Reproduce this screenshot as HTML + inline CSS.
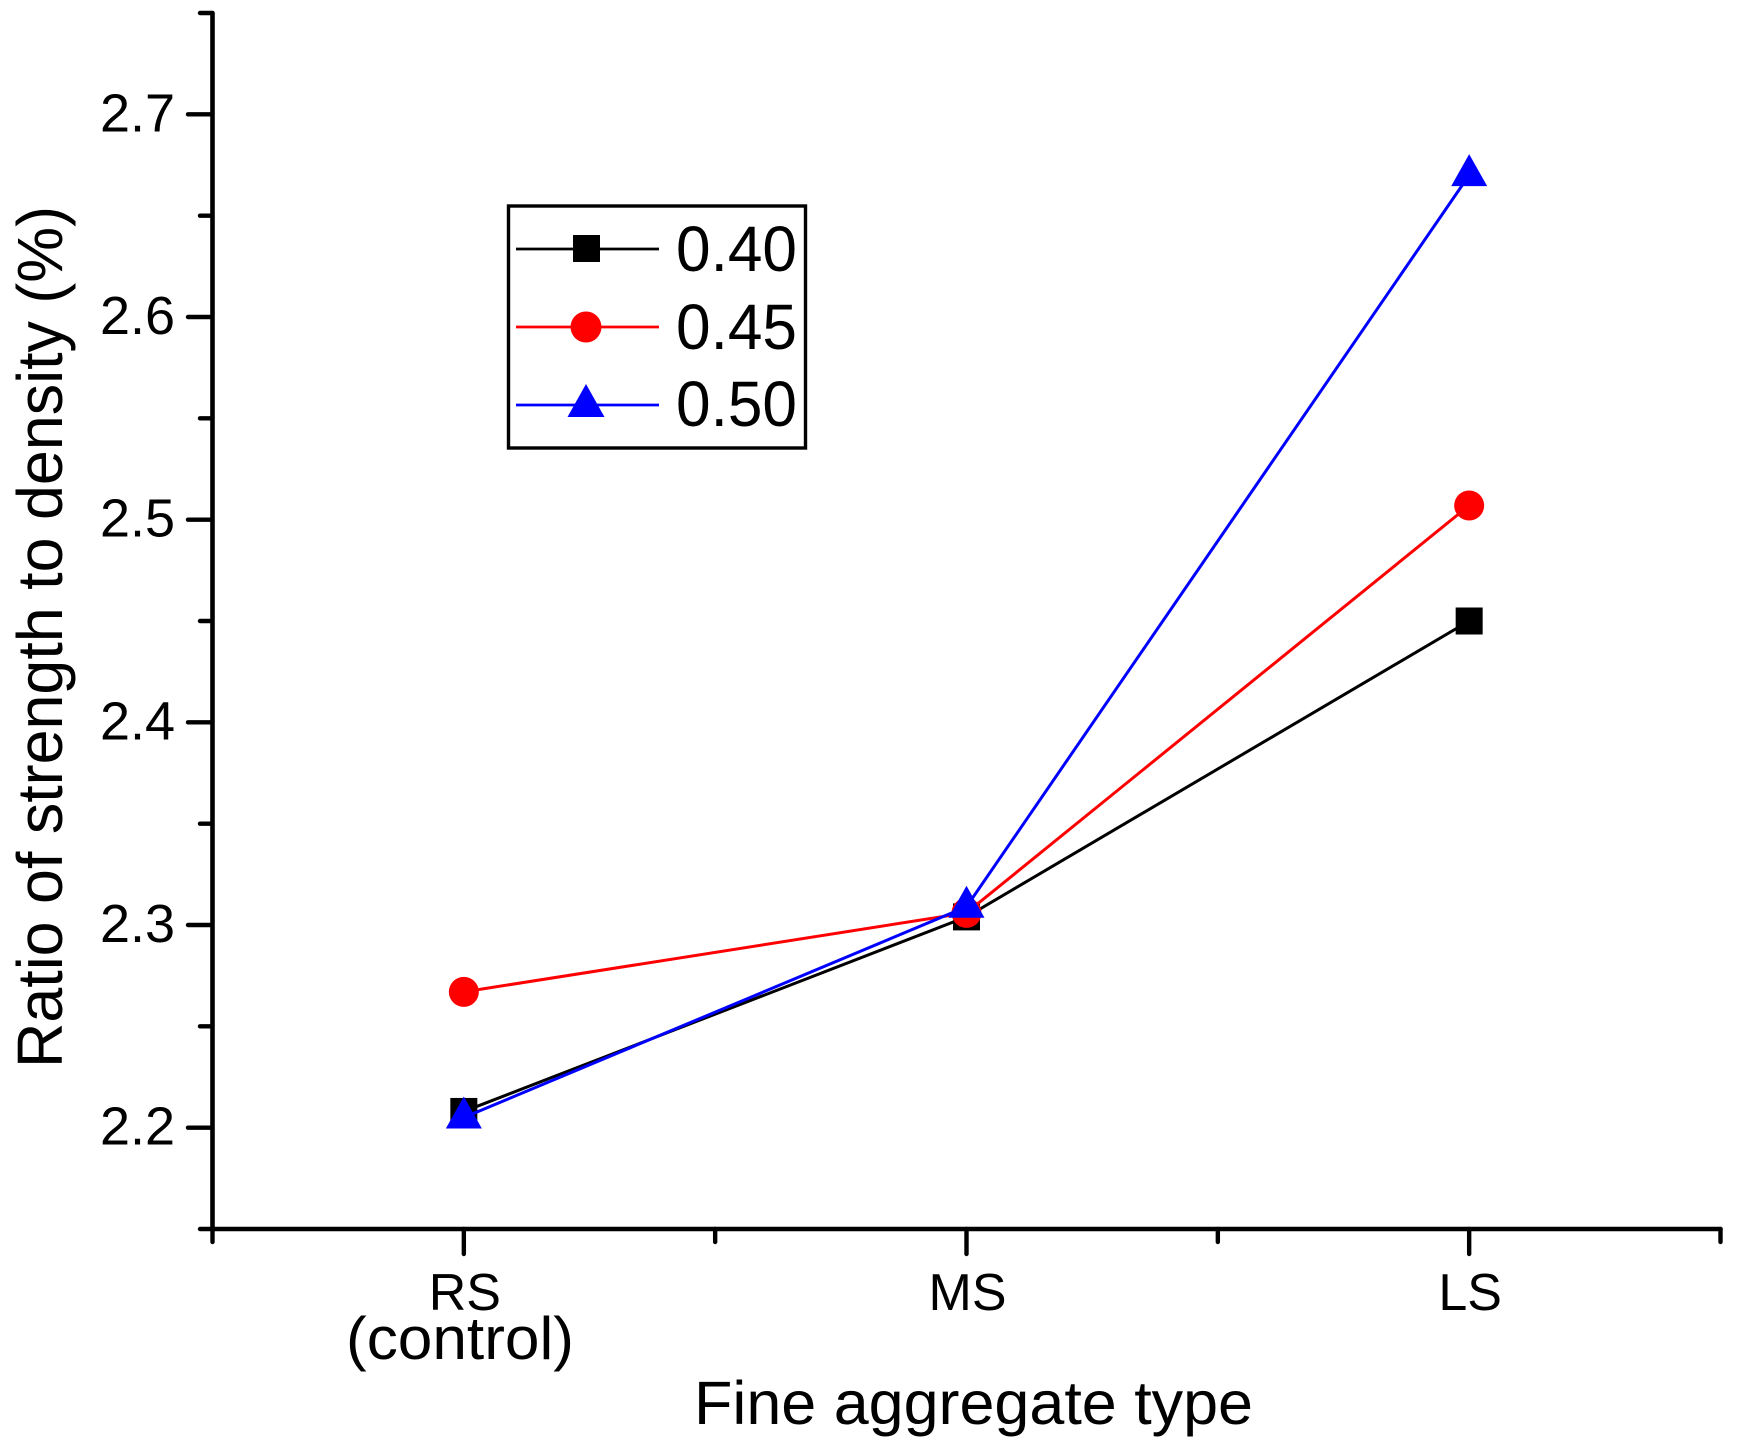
<!DOCTYPE html>
<html lang="en">
<head>
<meta charset="utf-8">
<title>Ratio of strength to density</title>
<style>
html,body{margin:0;padding:0;background:#fff;width:1738px;height:1451px;overflow:hidden}
svg{display:block}
text{font-family:"Liberation Sans",sans-serif;fill:#000}
</style>
</head>
<body>
<svg id="chart" xmlns="http://www.w3.org/2000/svg" width="1738" height="1451" viewBox="0 0 1738 1451">
<rect x="0" y="0" width="1738" height="1451" fill="#fff"/>
<g id="axes"></g>
<g id="series"></g>
<text transform="translate(62,1068) rotate(-90)" font-size="64" textLength="862" lengthAdjust="spacingAndGlyphs">Ratio of strength to density (%)</text>
<text x="694" y="1424" font-size="61" textLength="559" lengthAdjust="spacingAndGlyphs">Fine aggregate type</text>
<g id="legend">
<rect x="508.5" y="206" width="297" height="242" fill="#fff" stroke="#000" stroke-width="3.4"/>
<g>
<line x1="516" x2="659" y1="249" y2="249" stroke="#000" stroke-width="2.8"/>
<rect x="573" y="235" width="27" height="27" fill="#000"/>
<text x="676" y="271" font-size="64" textLength="121" lengthAdjust="spacingAndGlyphs">0.40</text>
</g>
<g>
<line x1="516" x2="659" y1="327" y2="327" stroke="#f00" stroke-width="2.8"/>
<circle cx="586" cy="327" r="15.5" fill="#f00"/>
<text x="676" y="349" font-size="64" textLength="121" lengthAdjust="spacingAndGlyphs">0.45</text>
</g>
<g>
<line x1="516" x2="659" y1="405" y2="405" stroke="#00f" stroke-width="2.8"/>
<polygon points="586,384 604.5,417 567.5,417" fill="#00f"/>
<text x="676" y="426" font-size="64" textLength="121" lengthAdjust="spacingAndGlyphs">0.50</text>
</g>
</g>
</svg>
<script>
var categories = ["RS", "MS", "LS"];
var yMajorTicks = ["2.2", "2.3", "2.4", "2.5", "2.6", "2.7"];
var yMinorTicks = ["2.15", "2.25", "2.35", "2.45", "2.55", "2.65", "2.75"];
var xMinorTicks = [-0.5, 0.5, 1.5, 2.5];
var values040 = [2.208, 2.304, 2.45];
var values045 = [2.267, 2.306, 2.507];
var values050 = [2.205, 2.309, 2.67];

var SVG_NS = "http://www.w3.org/2000/svg";
var axesGroup = document.getElementById("axes");
var seriesGroup = document.getElementById("series");

function xScale(i) { return 212.5 + (i + 0.5) / 3 * (1720.5 - 212.5); }
function yScale(v) { return 1229 - (v - 2.15) / (2.75 - 2.15) * (1229 - 13); }

function make(parent, tag, attrs) {
  var el = document.createElementNS(SVG_NS, tag);
  for (var k in attrs) { el.setAttribute(k, attrs[k]); }
  parent.appendChild(el);
  return el;
}

function axisLine(x1, y1, x2, y2, w) {
  return make(axesGroup, "line", { x1: x1, y1: y1, x2: x2, y2: y2, stroke: "#000", "stroke-width": w, "stroke-linecap": "round" });
}

var yAxisLine = axisLine(212.5, yScale(2.75), 212.5, yScale(2.15), 4.6);


var xAxisLine = axisLine(xScale(-0.5), yScale(2.15), xScale(2.5), yScale(2.15), 4.6);



yMajorTicks.forEach(function (label) {
  var v = parseFloat(label);
  var tick = axisLine(188, yScale(v), 212, yScale(v), 4.4);
  
  
  var t = make(axesGroup, "text", { x: 100, y: yScale(v) + 17, "font-size": 54 });
  t.textContent = label;
  
  
});

yMinorTicks.forEach(function (label) {
  var v = parseFloat(label);
  var tick = axisLine(200, yScale(v), 212, yScale(v), 4.4);
  
  
});

categories.forEach(function (label, i) {
  var tick = axisLine(xScale(i), yScale(2.15), xScale(i), yScale(2.15) + 25, 4.4);
  
  
  var t = make(axesGroup, "text", { x: xScale(i) + 1, y: 1310, "font-size": 52, "text-anchor": "middle" });
  t.textContent = label;
  
  
});

xMinorTicks.forEach(function (pos) {
  var tick = axisLine(xScale(pos), yScale(2.15), xScale(pos), yScale(2.15) + 13, 4.4);
  
  
});

var controlNote = make(axesGroup, "text", { x: 346, y: 1359, "font-size": 60, textLength: 228, lengthAdjust: "spacingAndGlyphs" });
controlNote.textContent = "(control)";



function polyline(values, color) {
  var pts = values.map(function (v, i) { return xScale(i) + "," + yScale(v); }).join(" ");
  return make(seriesGroup, "polyline", { points: pts, fill: "none", stroke: color, "stroke-width": 3 });
}

var line040 = polyline(values040, "#000");


values040.forEach(function (v, i) {
  var m = make(seriesGroup, "rect", { x: xScale(i) - 13.5, y: yScale(v) - 13.5, width: 27, height: 27, fill: "#000" });
  
  
});

var line045 = polyline(values045, "#f00");


values045.forEach(function (v, i) {
  var m = make(seriesGroup, "circle", { cx: xScale(i), cy: yScale(v), r: 15, fill: "#f00" });
  
  
});

var line050 = polyline(values050, "#00f");


values050.forEach(function (v, i) {
  var cx = xScale(i), cy = yScale(v);
  var pts = cx + "," + (cy - 21) + " " + (cx + 18) + "," + (cy + 11) + " " + (cx - 18) + "," + (cy + 11);
  var m = make(seriesGroup, "polygon", { points: pts, fill: "#00f" });
  
  
});
</script>
</body>
</html>
